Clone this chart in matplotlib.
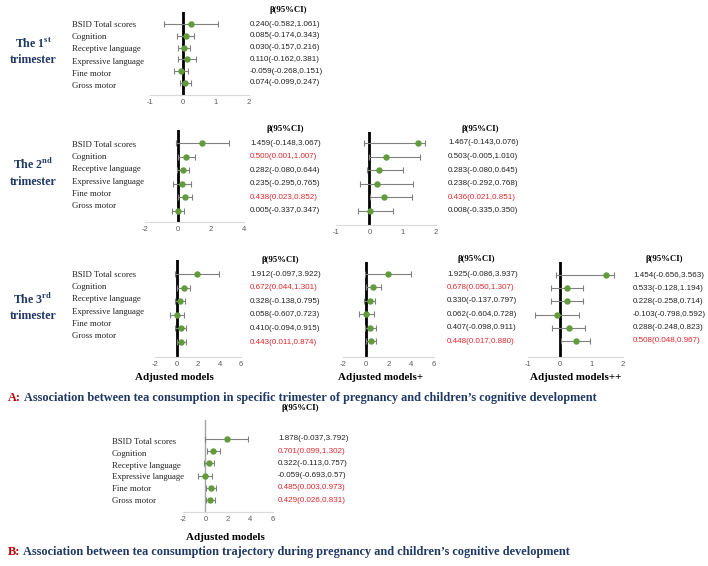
import matplotlib
matplotlib.use('Agg')
import matplotlib.pyplot as plt
import matplotlib.transforms as mtransforms

plt.rcParams['font.family'] = ['Liberation Serif', 'DejaVu Serif']
plt.rcParams['mathtext.fontset'] = 'custom'
plt.rcParams['mathtext.rm'] = 'Liberation Serif'
plt.rcParams['mathtext.bf'] = 'Liberation Serif:bold'
plt.rcParams['axes.unicode_minus'] = False

W, H = 708, 566

rows = ['BSID Total scores', 'Cognition', 'Receptive language',
        'Expressive language', 'Fine motor', 'Gross motor']

# 1st trimester, adjusted models
t1_est = [0.240, 0.085, 0.030, 0.110, -0.059, 0.074]
t1_lo = [-0.582, -0.174, -0.157, -0.162, -0.268, -0.099]
t1_hi = [1.061, 0.343, 0.216, 0.381, 0.151, 0.247]
t1_txt = ['0.240(-0.582,1.061)', '0.085(-0.174,0.343)', '0.030(-0.157,0.216)',
          '0.110(-0.162,0.381)', '-0.059(-0.268,0.151)', '0.074(-0.099,0.247)']

# 2nd trimester, adjusted models
t2a_est = [1.459, 0.500, 0.282, 0.235, 0.438, 0.005]
t2a_lo = [-0.148, 0.001, -0.080, -0.295, 0.023, -0.337]
t2a_hi = [3.067, 1.007, 0.644, 0.765, 0.852, 0.347]
t2a_txt = ['1.459(-0.148,3.067)', '0.500(0.001,1.007)', '0.282(-0.080,0.644)',
           '0.235(-0.295,0.765)', '0.438(0.023,0.852)', '0.005(-0.337,0.347)']

# 2nd trimester, adjusted models+ (bars as drawn in the picture)
t2b_est = [1.467, 0.503, 0.283, 0.238, 0.436, 0.008]
t2b_lo = [-0.15, 0.0, -0.08, -0.28, 0.02, -0.34]
t2b_hi = [1.68, 1.52, 1.00, 1.30, 1.27, 0.70]
t2b_txt = ['1.467(-0.143,0.076)', '0.503(-0.005,1.010)', '0.283(-0.080,0.645)',
           '0.238(-0.292,0.768)', '0.436(0.021,0.851)', '0.008(-0.335,0.350)']

# 3rd trimester
t3a_est = [1.912, 0.672, 0.328, 0.058, 0.410, 0.443]
t3a_lo = [-0.097, 0.044, -0.138, -0.607, -0.094, 0.011]
t3a_hi = [3.922, 1.301, 0.795, 0.723, 0.915, 0.874]
t3a_txt = ['1.912(-0.097,3.922)', '0.672(0.044,1.301)', '0.328(-0.138,0.795)',
           '0.058(-0.607,0.723)', '0.410(-0.094,0.915)', '0.443(0.011,0.874)']

t3b_est = [1.925, 0.678, 0.330, 0.062, 0.407, 0.448]
t3b_lo = [-0.086, 0.050, -0.137, -0.604, -0.098, 0.017]
t3b_hi = [3.937, 1.307, 0.797, 0.728, 0.911, 0.880]
t3b_txt = ['1.925(-0.086,3.937)', '0.678(0.050,1.307)', '0.330(-0.137,0.797)',
           '0.062(-0.604,0.728)', '0.407(-0.098,0.911)', '0.448(0.017,0.880)']

# adjusted models++ (points / bars as drawn in the picture)
t3c_est = [1.45, 0.23, 0.23, -0.10, 0.29, 0.51]
t3c_lo = [-0.13, -0.26, -0.26, -0.78, -0.24, 0.05]
t3c_hi = [1.70, 0.73, 0.73, 0.60, 0.80, 0.96]
t3c_txt = ['1.454(-0.656,3.563)', '0.533(-0.128,1.194)', '0.228(-0.258,0.714)',
           '-0.103(-0.798,0.592)', '0.288(-0.248,0.823)', '0.508(0.048,0.967)']

# B: trajectory
tr_est = [1.878, 0.701, 0.322, -0.059, 0.485, 0.429]
tr_lo = [-0.037, 0.099, -0.113, -0.693, 0.003, 0.026]
tr_hi = [3.792, 1.302, 0.757, 0.57, 0.973, 0.831]
tr_txt = ['1.878(-0.037,3.792)', '0.701(0.099,1.302)', '0.322(-0.113,0.757)',
          '-0.059(-0.693,0.57)', '0.485(0.003,0.973)', '0.429(0.026,0.831)']

GREEN = '#629b3b'
RED = '#e0262b'
NAVY = '#1f3864'
DARK = '#222222'

fig = plt.figure(figsize=(W / 100, H / 100), dpi=100)


def fx(x):
    return x / W


def fy(y):
    return 1 - y / H


def significant(s):
    lo, hi = s[s.index('(') + 1:-1].split(',')
    return float(lo) > 0 or float(hi) < 0


def panel(est, lo, hi, txt, x0, x1, xlim, xticks, top, bottom, r0, r5,
          val_x, head, thin_zero=False):
    ax = fig.add_axes([fx(x0), fy(bottom), (x1 - x0) / W, (bottom - top) / H])
    s = (r5 - r0) / 5.0
    ax.set_xlim(*xlim)
    ax.set_ylim(-(bottom - r0) / s, (r0 - top) / s)
    y = [-i for i in range(len(est))]
    if thin_zero:
        ax.axvline(0, color='#a6a6a6', lw=1.0, zorder=1)
    else:
        ax.axvline(0, color='black', lw=2.0, zorder=1)
    xerr = [[e - l for e, l in zip(est, lo)], [h - e for e, h in zip(est, hi)]]
    ax.errorbar(est, y, xerr=xerr, fmt='o', color=GREEN, ms=3.6,
                ecolor='#808080', elinewidth=0.8, capsize=2, capthick=0.8,
                zorder=3)
    for side in ['left', 'right', 'top']:
        ax.spines[side].set_visible(False)
    ax.spines['bottom'].set_color('#d9d9d9')
    ax.spines['bottom'].set_linewidth(0.8)
    ax.set_yticks([])
    ax.set_xticks(xticks)
    ax.set_xticklabels([str(t) for t in xticks], family='Liberation Sans')
    ax.tick_params(axis='x', length=0, labelsize=5.5, colors='#595959', pad=3)
    ax.patch.set_alpha(0)
    tr = mtransforms.blended_transform_factory(fig.transFigure, ax.transData)
    for yi, t in zip(y, txt):
        ax.text(fx(val_x), yi, t, transform=tr, ha='left', va='center',
                fontsize=5.8, family='Liberation Sans',
                color=RED if significant(t) else DARK, clip_on=False)
    fig.text(fx(head[0]), fy(head[1]), 'β(95%CI)', ha='center', va='center',
             fontsize=6.3, fontweight='bold', color='black')
    return ax


def row_labels(x, first, last):
    step = (last - first) / 5.0
    for i, name in enumerate(rows):
        fig.text(fx(x), fy(first + i * step), name, ha='left', va='center',
                 fontsize=6.3, color=DARK)


def trimester(n, sup, y1, y2):
    fig.text(fx(33), fy(y1), 'The ' + n + r'$^{\mathbf{' + sup + '}}$',
             ha='center', va='center', fontsize=8.6, fontweight='bold', color=NAVY)
    fig.text(fx(33), fy(y2), 'trimester', ha='center', va='center',
             fontsize=8.6, fontweight='bold', color=NAVY)


# 1st trimester
panel(t1_est, t1_lo, t1_hi, t1_txt, 150, 249, (-1, 2), [-1, 0, 1, 2],
      12, 95, 24, 83, 250, (288, 10))
row_labels(72, 25, 86)
trimester('1', 'st', 44, 60)

# 2nd trimester
panel(t2a_est, t2a_lo, t2a_hi, t2a_txt, 145, 244, (-2, 4), [-2, 0, 2, 4],
      130, 222, 143, 211, 250, (285, 129))
panel(t2b_est, t2b_lo, t2b_hi, t2b_txt, 336, 436, (-1, 2), [-1, 0, 1, 2],
      132, 225, 143, 211, 448, (480, 129))
row_labels(72, 145, 206)
trimester('2', 'nd', 164, 182)

# 3rd trimester
panel(t3a_est, t3a_lo, t3a_hi, t3a_txt, 155, 241, (-2, 6), [-2, 0, 2, 4, 6],
      260, 357, 274, 342, 250, (280, 260))
panel(t3b_est, t3b_lo, t3b_hi, t3b_txt, 343, 434, (-2, 6), [-2, 0, 2, 4, 6],
      262, 357, 274, 341, 447, (476, 259))
panel(t3c_est, t3c_lo, t3c_hi, t3c_txt, 528, 623, (-1, 2), [-1, 0, 1, 2],
      262, 357, 275, 341, 633, (664, 259))
row_labels(72, 275, 336)
trimester('3', 'rd', 299, 316)

for cx, lab in [(174, 'Adjusted models'), (381, 'Adjusted models+'),
                (576, 'Adjusted models++')]:
    fig.text(fx(cx), fy(377), lab, ha='center', va='center', fontsize=7.9,
             fontweight='bold', color='black')

# A title
ta = fig.text(fx(8), fy(398), 'A:', ha='left', va='center', fontsize=8.8,
              fontweight='bold', color='#c00000')
fig.canvas.draw()
bb = ta.get_window_extent()
fig.text(bb.x1 / W + 0.004, fy(398),
         'Association between tea consumption in specific trimester of pregnancy '
         'and children\u2019s cognitive development',
         ha='left', va='center', fontsize=8.8, fontweight='bold', color=NAVY)

# B panel
panel(tr_est, tr_lo, tr_hi, tr_txt, 183, 273, (-2, 6), [-2, 0, 2, 4, 6],
      420, 512, 439, 500, 278, (300, 408), thin_zero=True)
row_labels(112, 442, 501)
fig.text(fx(225), fy(537), 'Adjusted models', ha='center', va='center',
         fontsize=7.9, fontweight='bold', color='black')

tb = fig.text(fx(8), fy(552), 'B:', ha='left', va='center', fontsize=8.8,
              fontweight='bold', color='#c00000')
fig.canvas.draw()
bb = tb.get_window_extent()
fig.text(bb.x1 / W + 0.004, fy(552),
         'Association between tea consumption trajectory during pregnancy '
         'and children\u2019s cognitive development',
         ha='left', va='center', fontsize=8.8, fontweight='bold', color=NAVY)

fig.savefig('out.png', dpi=100)
